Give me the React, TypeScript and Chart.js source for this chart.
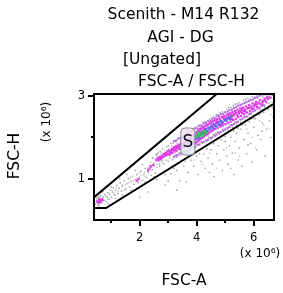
import React, { useEffect, useRef } from "react";
import { Chart, registerables } from "chart.js";
Chart.register(...registerables);

const titleLines = ["Scenith - M14 R132", "AGI - DG", "[Ungated]", "FSC-A / FSC-H"];
const xAxisTitle = "FSC-A";
const yAxisTitle = "FSC-H";
const unitLabel = "(x 10\u2076)";
const xMajorTicks = [2, 4, 6];
const xMinorTicks = [1, 3, 5];
const yMajorTicks = [1, 3];
const yMinorTicks = [2];
const xRange = [0.4, 6.71];
const yRange = [0, 3.05];

const gateName = "S";
const gateLabelAt = [3.69, 1.9];
const gateVertices = [
  [0.3, 0.49], [0.3, 0.29], [0.82, 0.29], [7.0, 2.94], [7.0, 3.3], [5.13, 3.3], [0.3, 0.49],
];

const grayEvents = [
  [2.65,1.62],[2.8,1.72],[2.95,1.78],[3.1,1.85],[3.25,1.9],[3.4,1.98],[3.55,2.05],[3.7,2.12],[3.85,2.2],[4.0,2.27],
  [4.15,2.3],[4.3,2.38],[4.45,2.44],[4.6,2.5],[4.75,2.55],[4.9,2.62],[5.05,2.68],[5.2,2.72],[5.35,2.8],[5.5,2.84],
  [5.65,2.9],[5.8,2.94],[5.95,2.98],[6.1,3.0],[6.25,3.02],[6.4,3.03],[6.55,3.0],[6.62,2.95],
  [2.72,1.66],[3.02,1.8],[3.33,1.95],[3.62,2.1],[3.92,2.22],[4.22,2.36],[4.52,2.47],[4.82,2.6],[5.12,2.72],[5.42,2.82],
  [5.72,2.93],[6.02,2.95],[6.32,3.0],[6.6,2.98],[6.65,3.02],[2.58,1.58],[3.18,1.86],[3.48,2.01],[4.08,2.3],[4.68,2.55],
  [5.28,2.77],[5.88,2.92],[6.45,2.98],
  [2.7,1.3],[2.85,1.36],[3.0,1.42],[3.15,1.46],[3.3,1.52],[3.45,1.57],[3.6,1.62],[3.75,1.68],[3.9,1.74],[4.05,1.8],
  [4.2,1.86],[4.35,1.9],[4.5,1.96],[4.65,2.02],[4.8,2.07],[4.95,2.14],[5.1,2.18],[5.25,2.24],[5.4,2.3],[5.55,2.36],
  [5.7,2.41],[5.85,2.48],[6.0,2.53],[6.15,2.6],[6.3,2.66],[6.45,2.72],[6.6,2.78],
  [2.92,1.45],[3.22,1.55],[3.52,1.66],[3.82,1.76],[4.12,1.9],[4.42,2.0],[4.72,2.12],[5.02,2.22],[5.32,2.35],[5.62,2.45],
  [5.92,2.56],[6.22,2.68],[6.52,2.82],[6.68,2.86],[2.78,1.4],[3.38,1.62],[3.98,1.85],[4.58,2.06],[5.18,2.3],[5.78,2.5],
  [6.38,2.74],
  [2.6,0.98],[2.9,1.1],[3.1,1.12],[3.3,1.2],[3.4,0.95],[3.55,1.3],[3.7,1.15],[3.8,1.45],[3.9,1.3],[4.0,1.55],
  [4.05,1.1],[4.15,1.42],[4.25,1.6],[4.3,1.25],[4.4,1.5],[4.5,1.7],[4.55,1.35],[4.6,1.05],[4.7,1.6],[4.75,1.8],
  [4.8,1.45],[4.9,1.2],[4.95,1.7],[5.0,1.9],[5.05,1.55],[5.1,1.35],[5.15,1.8],[5.2,2.0],[5.25,1.62],[5.3,1.1],
  [5.35,1.9],[5.4,2.1],[5.45,1.45],[5.5,1.75],[5.55,2.2],[5.6,1.3],[5.65,1.95],[5.7,2.3],[5.75,1.6],[5.8,2.1],
  [5.85,2.38],[5.9,1.85],[5.95,1.4],[6.0,2.25],[6.05,2.45],[6.1,1.7],[6.15,2.05],[6.2,2.55],[6.25,1.95],[6.3,2.35],
  [6.35,2.6],[6.4,1.55],[6.45,2.2],[6.5,2.68],[6.55,2.4],[6.6,2.0],[6.65,2.72],[6.68,2.5],
  [3.2,1.25],[3.6,1.42],[4.1,1.6],[4.6,1.85],[5.0,2.02],[5.3,2.15],[5.6,2.3],[5.9,2.45],[6.2,2.6],[6.5,2.72],
  [4.35,1.72],[4.85,1.95],[5.45,2.22],[6.0,2.47],[3.64,0.92],[4.45,1.15],[5.2,1.25],[5.8,1.82],[6.28,2.15],[3.0,0.95],
  [0.45,0.38],[0.48,0.45],[0.5,0.52],[0.53,0.36],[0.56,0.55],[0.6,0.4],[0.64,0.58],[0.68,0.42],[0.72,0.55],[0.75,0.48],
  [0.78,0.62],[0.82,0.45],[0.85,0.57],[0.88,0.66],[0.92,0.5],[0.95,0.62],[0.98,0.72],[1.02,0.55],[1.05,0.68],[1.08,0.78],
  [1.12,0.6],[1.15,0.72],[1.2,0.84],[1.24,0.64],[1.28,0.77],[1.32,0.9],[1.36,0.7],[1.4,0.82],[1.45,0.95],[1.5,0.75],
  [1.55,0.88],[1.6,1.0],[1.65,0.8],[1.7,0.93],[1.75,1.06],[1.8,0.86],[1.85,0.98],[1.9,1.1],[1.95,0.9],[2.0,1.04],
  [2.05,1.18],[2.1,0.96],[2.15,1.1],[2.2,1.25],[2.25,1.02],[2.3,1.15],[2.35,1.32],[2.4,1.08],[2.45,1.22],[2.5,1.38],
  [2.55,1.14],[2.6,1.28],[2.65,1.45],[1.3,1.0],[1.0,0.8],[1.7,0.72],[2.2,0.92],[1.55,1.1],[2.45,1.5],[0.9,0.4],
  [1.85,1.2],[2.1,1.35],[0.7,0.68],[1.15,0.52],[2.7,1.35],[2.5,1.05],[1.4,0.6],[2.6,1.6],[2.3,0.68],[2.9,0.85],
  [3.3,0.72],[2.0,0.55],[0.52,0.44],[0.62,0.5],[0.58,0.35],[0.66,0.47],
];

const lightGrayEvents = [
  [2.5,1.5],[2.62,1.55],[2.75,1.62],[2.88,1.68],[3.0,1.72],[3.12,1.78],[3.3,1.86],[3.45,1.92],[3.58,1.98],[3.75,2.05],
  [3.88,2.12],[4.02,2.18],[4.18,2.26],[4.35,2.32],[4.5,2.38],[4.65,2.46],[4.8,2.52],[4.95,2.58],[5.1,2.64],[5.25,2.68],
  [5.4,2.74],[5.55,2.78],[5.7,2.85],[5.85,2.88],[6.0,2.92],[6.15,2.95],[6.3,2.98],[6.48,3.02],[6.62,3.03],
  [2.6,1.35],[2.8,1.44],[3.05,1.5],[3.25,1.6],[3.5,1.7],[3.7,1.75],[3.95,1.82],[4.15,1.95],[4.4,2.05],[4.65,2.1],
  [4.9,2.2],[5.15,2.28],[5.4,2.38],[5.65,2.5],[5.9,2.6],[6.15,2.7],[6.4,2.78],[6.6,2.86],
  [0.5,0.48],[0.7,0.52],[0.8,0.58],[0.95,0.55],[1.1,0.65],[1.25,0.7],[1.38,0.86],[1.5,0.85],[1.62,0.9],[1.78,0.95],
  [1.92,1.02],[2.05,1.08],[2.18,1.16],[2.28,1.25],[2.4,1.2],[2.52,1.3],[2.38,1.4],[2.2,1.05],[1.98,1.15],[1.68,1.02],
  [1.45,0.72],[1.18,0.78],[0.88,0.52],[0.6,0.56],
  [4.2,1.35],[4.7,1.25],[5.05,1.75],[5.5,1.55],[5.95,2.0],[6.35,2.3],[6.6,2.55],[4.45,1.62],[5.35,1.62],[6.05,1.75],
  [6.55,2.22],[3.9,1.45],[5.75,2.2],[6.2,2.4],
];

const purpleEvents = [
  [3.21,1.91],[3.35,1.97],[3.5,2.02],[3.65,2.09],[3.8,2.14],[3.95,2.22],[4.1,2.27],[4.25,2.34],[4.4,2.4],[4.55,2.45],
  [4.7,2.51],[4.85,2.56],[5.0,2.61],[5.15,2.66],[5.3,2.71],[5.45,2.77],[5.6,2.81],[5.75,2.86],[5.9,2.91],[6.05,2.96],
  [6.2,3.01],[3.28,1.92],[3.43,1.98],[3.58,2.04],[3.73,2.1],[3.88,2.17],[4.03,2.22],[4.18,2.29],[4.33,2.35],[4.48,2.4],
  [4.63,2.46],[4.78,2.52],[4.93,2.57],[5.08,2.62],[5.23,2.67],[5.38,2.73],[5.53,2.78],[5.68,2.83],[5.83,2.88],[5.98,2.92],
  [6.13,2.97],
  [3.2,1.52],[3.35,1.57],[3.5,1.62],[3.65,1.66],[3.8,1.71],[3.95,1.77],[4.1,1.83],[4.25,1.89],[4.4,1.94],[4.55,2.0],
  [4.7,2.07],[4.85,2.13],[5.0,2.19],[5.15,2.25],[5.3,2.32],[5.45,2.38],[5.6,2.45],[5.75,2.51],[5.9,2.58],[6.05,2.65],
  [6.2,2.72],[6.35,2.78],[3.28,1.56],[3.43,1.61],[3.58,1.66],[3.73,1.7],[3.88,1.76],[4.03,1.82],[4.18,1.88],[4.33,1.93],
  [4.48,1.99],[4.63,2.05],[4.78,2.11],[4.93,2.17],[5.08,2.23],[5.23,2.3],[5.38,2.36],[5.53,2.43],[5.68,2.49],[5.83,2.56],
  [5.98,2.63],[6.13,2.7],[6.28,2.76],
];

const magentaEvents = [
  [2.58,1.45],[2.63,1.5],[2.66,1.44],[2.71,1.53],[2.74,1.47],[2.78,1.56],[2.82,1.52],[2.85,1.6],[2.88,1.55],[2.92,1.62],
  [2.95,1.57],[2.97,1.66],[3.0,1.6],
  [3.03,1.68],[3.05,1.58],[3.08,1.64],[3.12,1.72],[3.14,1.62],[3.17,1.69],[3.2,1.76],[3.22,1.66],[3.25,1.71],[3.28,1.79],
  [3.3,1.68],[3.33,1.75],[3.36,1.82],[3.38,1.72],[3.41,1.78],[3.44,1.85],[3.46,1.74],[3.49,1.81],[3.52,1.88],[3.54,1.77],
  [3.57,1.84],[3.6,1.91],[3.62,1.8],
  [3.65,1.93],[3.67,1.83],[3.7,1.88],[3.72,1.97],[3.74,1.79],[3.77,1.92],[3.8,2.01],[3.82,1.84],[3.85,1.95],[3.88,2.05],
  [3.9,1.86],[3.93,1.99],[3.96,2.09],[3.98,1.88],[4.01,2.13],[4.03,1.9],[4.06,2.17],[4.08,1.94],[4.12,2.2],[4.14,1.96],
  [4.17,2.22],[4.2,1.99],[4.23,2.25],[4.25,2.02],[4.28,2.27],[4.31,2.05],[4.34,2.29],[4.37,2.08],[4.4,2.31],[4.42,2.1],
  [4.45,2.34],[4.48,2.13],[4.51,2.36],[4.54,2.16],[4.57,2.39],[4.6,2.19],[3.75,1.9],[3.95,1.97],[4.15,2.1],[4.35,2.16],
  [4.55,2.26],
  [4.63,2.41],[4.65,2.21],[4.68,2.34],[4.71,2.44],[4.73,2.23],[4.77,2.37],[4.8,2.46],[4.83,2.26],[4.86,2.3],[4.89,2.49],
  [4.92,2.29],[4.95,2.45],[4.98,2.52],[5.01,2.32],[5.04,2.48],[5.07,2.55],[5.1,2.35],[5.13,2.5],[5.16,2.58],[5.19,2.38],
  [5.22,2.55],[5.25,2.61],[5.28,2.42],[5.31,2.57],[5.34,2.64],[5.37,2.45],[5.4,2.6],[5.43,2.67],[5.46,2.49],[5.49,2.63],
  [5.52,2.7],[5.55,2.52],[5.58,2.66],[5.6,2.59],
  [5.63,2.72],[5.66,2.56],[5.69,2.67],[5.72,2.75],[5.76,2.6],[5.8,2.71],[5.84,2.78],[5.88,2.64],[5.92,2.75],[5.96,2.82],
  [6.0,2.7],[6.04,2.8],[6.08,2.86],[6.12,2.74],[6.17,2.84],[6.22,2.9],[6.27,2.79],[6.33,2.88],[6.38,2.94],[6.44,2.85],
  [6.5,2.93],
  [2.68,1.49],[2.76,1.51],[2.9,1.58],[3.06,1.63],[3.1,1.67],[3.19,1.72],[3.27,1.74],[3.35,1.78],[3.43,1.8],[3.5,1.84],
  [3.58,1.87],[3.69,1.85],[3.79,1.96],[3.84,1.89],[3.91,1.93],[3.97,2.04],[4.05,1.99],[4.11,2.14],[4.19,2.16],[4.26,2.2],
  [4.3,2.12],[4.39,2.24],[4.46,2.19],[4.52,2.3],[4.59,2.32],[4.64,2.28],[4.7,2.39],[4.76,2.3],[4.82,2.42],[4.88,2.35],
  [4.94,2.5],[5.0,2.41],[5.06,2.44],[5.12,2.55],[5.18,2.48],[5.24,2.45],[5.3,2.53],[5.36,2.58],[5.42,2.53],[5.48,2.58],
  [5.54,2.62],[5.59,2.7],[5.65,2.64],[5.71,2.62],[5.78,2.7],[5.86,2.72],[5.94,2.69],[6.02,2.76],[6.1,2.8],[6.2,2.82],
  [6.3,2.84],[6.4,2.9],[6.47,2.97],[6.56,2.96],
  [0.55,0.42],[0.6,0.47],[0.63,0.44],[0.66,0.5],[0.58,0.5],[0.7,0.48],[0.52,0.45],
  [1.9,0.95],[1.96,0.99],[2.35,1.25],[2.4,1.3],[2.48,1.33],[2.3,1.2],
];

const blueEvents = [
  [3.86,1.93],[3.92,2.02],[3.99,1.96],[4.04,2.05],[4.1,2.0],[4.16,2.07],[4.22,2.12],[4.27,2.09],[4.33,2.2],[4.38,2.15],
  [4.44,2.22],[4.5,2.25],[4.56,2.22],[4.62,2.3],[4.68,2.27],[4.74,2.35],[4.8,2.31],[4.86,2.39],[4.92,2.36],[4.98,2.43],
  [5.04,2.4],[5.1,2.47],[5.16,2.44],[5.22,2.51],
];

const greenEvents = [
  [4.02,2.03],[4.07,2.08],[4.12,2.05],[4.18,2.12],[4.24,2.08],[4.28,2.15],[4.32,2.11],[4.06,2.12],[3.96,2.02],[4.2,2.04],
];

const toXY = (arr: number[][]) => arr.map(([x, y]) => ({ x, y }));

const overlay = {
  id: "overlay",
  afterDatasetsDraw(chart: any) {
    const { ctx, chartArea: a, scales } = chart;
    const xs = scales.x, ys = scales.y;
    ctx.save();
    const cx = xs.getPixelForValue(gateLabelAt[0]);
    const cy = ys.getPixelForValue(gateLabelAt[1]);
    const bw = 14, bh = 27;
    const g = ctx.createLinearGradient(cx - bw / 2, cy - bh / 2, cx + bw / 2, cy + bh / 2);
    g.addColorStop(0, "rgba(248,222,248,0.85)");
    g.addColorStop(1, "rgba(222,240,245,0.85)");
    ctx.beginPath();
    ctx.roundRect(cx - bw / 2, cy - bh / 2, bw, bh, 4);
    ctx.fillStyle = g;
    ctx.fill();
    ctx.strokeStyle = "#888";
    ctx.lineWidth = 1;
    ctx.stroke();
    ctx.fillStyle = "#111";
    ctx.font = '17px "DejaVu Sans"';
    ctx.textAlign = "center";
    ctx.textBaseline = "middle";
    ctx.fillText(gateName, cx, cy + 1);

    ctx.strokeStyle = "#000";
    ctx.lineWidth = 2;
    ctx.strokeRect(a.left, a.top, a.right - a.left, a.bottom - a.top);

    ctx.beginPath();
    xMajorTicks.forEach((v) => { const p = Math.round(xs.getPixelForValue(v)); ctx.moveTo(p, a.bottom); ctx.lineTo(p, a.bottom + 6); });
    xMinorTicks.forEach((v) => { const p = Math.round(xs.getPixelForValue(v)); ctx.moveTo(p, a.bottom); ctx.lineTo(p, a.bottom + 3); });
    yMajorTicks.forEach((v) => { const p = Math.round(ys.getPixelForValue(v)); ctx.moveTo(a.left, p); ctx.lineTo(a.left - 6, p); });
    yMinorTicks.forEach((v) => { const p = Math.round(ys.getPixelForValue(v)); ctx.moveTo(a.left, p); ctx.lineTo(a.left - 3, p); });
    ctx.stroke();

    ctx.fillStyle = "#000";
    ctx.font = '11.5px "DejaVu Sans"';
    ctx.textAlign = "center";
    ctx.textBaseline = "alphabetic";
    xMajorTicks.forEach((v) => ctx.fillText(String(v), xs.getPixelForValue(v), a.bottom + 21));
    ctx.textAlign = "right";
    ctx.textBaseline = "middle";
    yMajorTicks.forEach((v) => ctx.fillText(String(v), a.left - 9, ys.getPixelForValue(v)));

    ctx.font = '15.5px "DejaVu Sans"';
    ctx.textAlign = "center";
    ctx.textBaseline = "alphabetic";
    const centers = [183.5, 180.5, 162, 191.5];
    const baselines = [19, 42, 64, 86];
    titleLines.forEach((t, i) => ctx.fillText(t, centers[i], baselines[i]));

    ctx.fillText(xAxisTitle, 184, 285);
    ctx.save();
    ctx.translate(15, 156);
    ctx.rotate(-Math.PI / 2);
    ctx.textBaseline = "middle";
    ctx.fillText(yAxisTitle, 0, 0);
    ctx.restore();

    ctx.font = '12px "DejaVu Sans"';
    ctx.fillText(unitLabel, 260, 257);
    ctx.save();
    ctx.translate(47, 122);
    ctx.rotate(-Math.PI / 2);
    ctx.textBaseline = "middle";
    ctx.fillText(unitLabel, 0, 0);
    ctx.restore();

    ctx.restore();
  },
};

export default function App() {
  const ref = useRef<HTMLCanvasElement>(null);
  useEffect(() => {
    if (!ref.current) return;
    const pts = (data: number[][], color: string, r: number, order: number) => ({
      data: toXY(data),
      backgroundColor: color,
      borderWidth: 0,
      pointStyle: "rect",
      pointRadius: r,
      pointHoverRadius: r,
      order,
    });
    const chart = new Chart(ref.current, {
      type: "scatter",
      data: {
        datasets: [
          {
            data: toXY(gateVertices),
            showLine: true,
            borderColor: "#000",
            borderWidth: 2,
            pointRadius: 0,
            fill: false,
            tension: 0,
            order: 0,
          } as any,
          pts(greenEvents, "#2ec84a", 1.7, 1),
          pts(blueEvents, "#4f6fe8", 1.7, 2),
          pts(magentaEvents, "#dc3ae8", 1.6, 3),
          pts(purpleEvents, "#b45ee6", 1.4, 4),
          pts(grayEvents, "#9c9c9c", 1.0, 5),
          pts(lightGrayEvents, "#c2c2c2", 1.0, 6),
        ],
      },
      options: {
        responsive: false,
        animation: false,
        layout: { padding: { left: 94, top: 94, right: 9, bottom: 73 } },
        plugins: { legend: { display: false }, tooltip: { enabled: false }, title: { display: false } },
        scales: {
          x: { type: "linear", min: xRange[0], max: xRange[1], display: false },
          y: { type: "linear", min: yRange[0], max: yRange[1], display: false },
        },
      },
      plugins: [overlay],
    });
    return () => chart.destroy();
  }, []);
  return (
    <canvas
      ref={ref}
      width={283}
      height={293}
      style={{ position: "fixed", left: 0, top: 0, width: 283, height: 293, display: "block", background: "#fff" }}
    />
  );
}
